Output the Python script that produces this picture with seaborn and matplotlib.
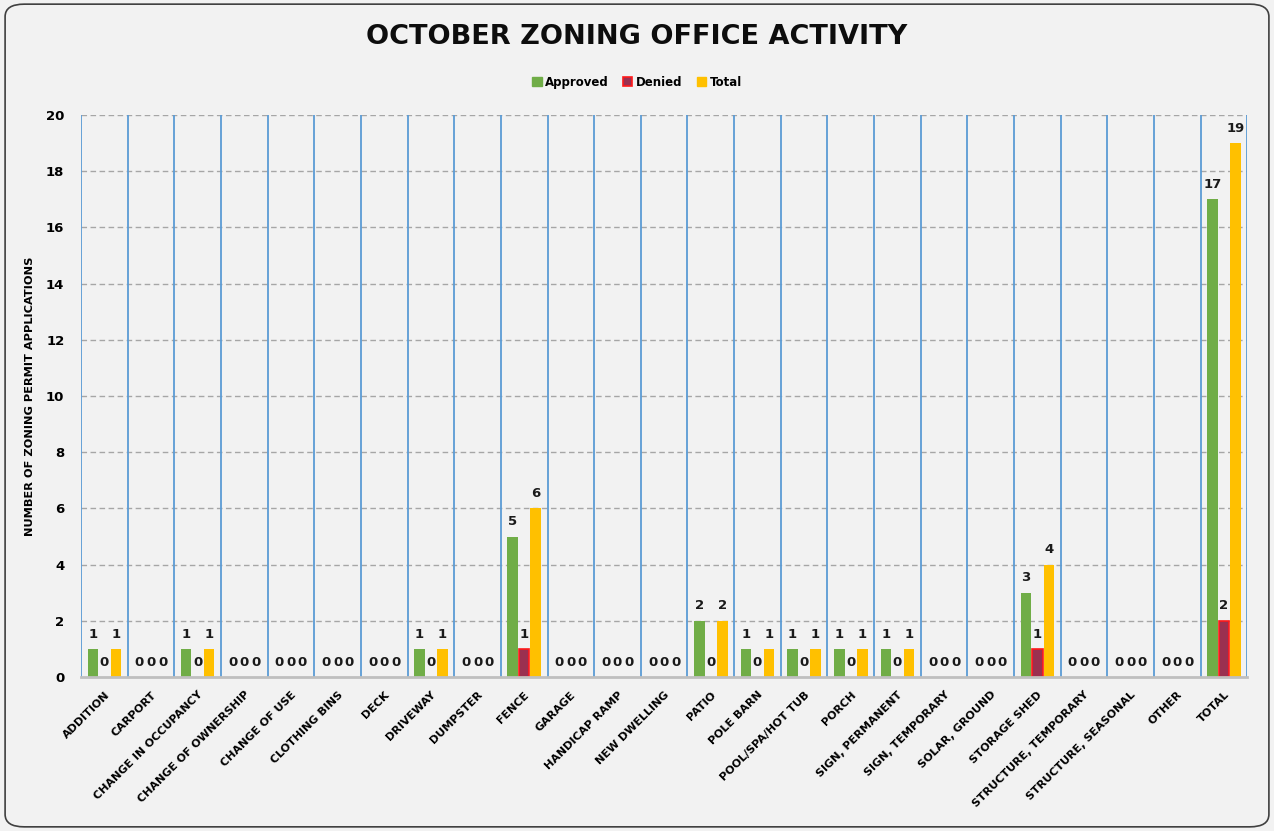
import pandas as pd
import matplotlib.pyplot as plt
import seaborn as sns
from matplotlib.patches import Patch, FancyBboxPatch

# ==============================
# DATA
# ==============================

categories = ['ADDITION', 'CARPORT', 'CHANGE IN OCCUPANCY', 'CHANGE OF OWNERSHIP',
              'CHANGE OF USE', 'CLOTHING BINS', 'DECK', 'DRIVEWAY', 'DUMPSTER',
              'FENCE', 'GARAGE', 'HANDICAP RAMP', 'NEW DWELLING', 'PATIO',
              'POLE BARN', 'POOL/SPA/HOT TUB', 'PORCH', 'SIGN, PERMANENT',
              'SIGN, TEMPORARY', 'SOLAR, GROUND', 'STORAGE SHED',
              'STRUCTURE, TEMPORARY', 'STRUCTURE, SEASONAL', 'OTHER', 'TOTAL']

approved = [1, 0, 1, 0, 0, 0, 0, 1, 0, 5, 0, 0, 0, 2, 1, 1, 1, 1, 0, 0, 3, 0, 0, 0, 17]
denied   = [0, 0, 0, 0, 0, 0, 0, 0, 0, 1, 0, 0, 0, 0, 0, 0, 0, 0, 0, 0, 1, 0, 0, 0, 2]
total    = [1, 0, 1, 0, 0, 0, 0, 1, 0, 6, 0, 0, 0, 2, 1, 1, 1, 1, 0, 0, 4, 0, 0, 0, 19]

series = ['Approved', 'Denied', 'Total']
colors = {'Approved': '#70ad47', 'Denied': '#9b3050', 'Total': '#ffc000'}

df = pd.DataFrame({
    'category': categories * 3,
    'status': ['Approved'] * len(categories) + ['Denied'] * len(categories) + ['Total'] * len(categories),
    'count': approved + denied + total,
})

# ==============================
# PLOT
# ==============================

bg = '#f2f2f2'
fig = plt.figure(figsize=(12.74, 8.31), dpi=100, facecolor=bg)
ax = fig.add_axes([0.0636, 0.1853, 0.9154, 0.6763])
ax.set_facecolor(bg)

sns.barplot(data=df, x='category', y='count', hue='status', hue_order=series,
            palette=colors, width=0.74, gap=0.08, saturation=1, ax=ax,
            legend=False, zorder=3)

# red outline on denied bars (only where there is a bar)
for p in ax.containers[1]:
    if p.get_height() > 0:
        p.set_edgecolor('#ff1a1a')
        p.set_linewidth(1.2)

for cont in ax.containers:
    ax.bar_label(cont, padding=6, fontsize=9.5, fontweight='bold', color='#1a1a1a')

# grid and separators
ax.set_ylim(0, 20)
ax.set_xlim(-0.5, len(categories) - 0.5)
ax.set_yticks(range(0, 21, 2))
for y in range(2, 21, 2):
    ax.axhline(y, color='#a6a6a6', linestyle=(0, (4, 2.5)), linewidth=1, zorder=1)
for i in range(len(categories) + 1):
    ax.axvline(i - 0.5, color='#5b9bd5', linewidth=1.3, zorder=2)

for s in ['top', 'left', 'right']:
    ax.spines[s].set_visible(False)
ax.spines['bottom'].set_color('#bfbfbf')
ax.spines['bottom'].set_linewidth(2)
ax.spines['bottom'].set_zorder(4)

ax.tick_params(axis='both', length=0)
ax.set_xticks(range(len(categories)))
ax.set_xticklabels(categories, rotation=45, ha='right', rotation_mode='anchor',
                   fontsize=8, fontweight='bold')
for lbl in ax.get_yticklabels():
    lbl.set_fontweight('bold')
    lbl.set_fontsize(9.5)
ax.tick_params(axis='y', pad=12)
ax.tick_params(axis='x', pad=9)

ax.set_xlabel('')
ax.set_ylabel('NUMBER OF ZONING PERMIT APPLICATIONS', fontsize=8.2, fontweight='bold', labelpad=8)

fig.text(0.5, 0.955, 'OCTOBER ZONING OFFICE ACTIVITY', ha='center', va='center',
         fontsize=19.5, fontweight='bold', color='#0d0d0d')

handles = [Patch(facecolor=colors['Approved'], edgecolor=colors['Approved']),
           Patch(facecolor=colors['Denied'], edgecolor='#ff1a1a', linewidth=1.2),
           Patch(facecolor=colors['Total'], edgecolor=colors['Total'])]
leg = fig.legend(handles, series, loc='center', bbox_to_anchor=(0.5, 0.901), ncol=3,
                 frameon=False, handlelength=0.8, handleheight=0.8, handletextpad=0.3,
                 columnspacing=1.2, prop={'size': 8.5, 'weight': 'bold'})

# rounded chart border
border = FancyBboxPatch((0.004, 0.005), 0.992, 0.99, boxstyle='round,pad=0,rounding_size=0.015',
                        transform=fig.transFigure, facecolor='none', edgecolor='#404040',
                        linewidth=1.2)
fig.patches.append(border)

fig.savefig('out.png', dpi=100, facecolor=bg)
